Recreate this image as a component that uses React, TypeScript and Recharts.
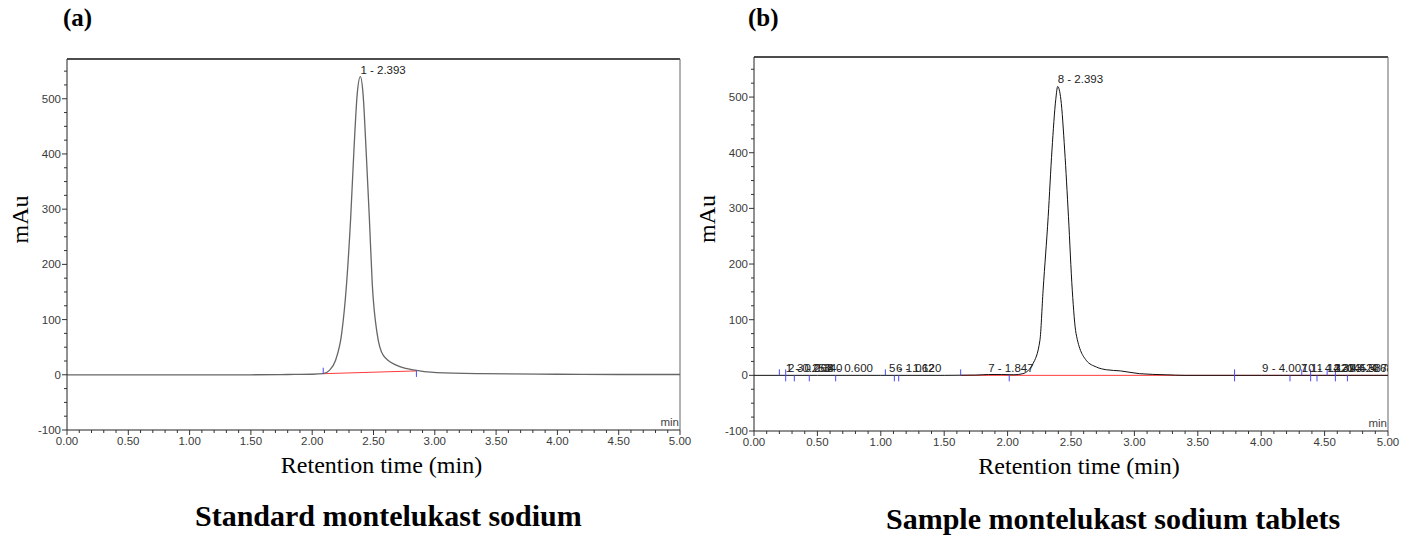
import React from "react";
import {
  ComposedChart,
  Line,
  Scatter,
  XAxis,
  YAxis,
  ReferenceLine
} from "recharts";

// (a) standard
const leftTime = [0, 0.5, 1.0, 1.5, 1.8, 2.0, 2.09, 2.14, 2.19, 2.24, 2.28, 2.314, 2.34, 2.367, 2.393, 2.415, 2.44, 2.466, 2.49, 2.53, 2.58, 2.69, 2.825, 3.015, 3.37, 4.0, 4.5, 5.0];
const leftSignal = [0, 0, 0, 0, 0.5, 1, 2, 8, 26, 74, 164, 285, 405, 508, 540, 508, 405, 285, 164, 74, 35, 17, 9, 4, 2, 1, 0.5, 0.5];
const leftPeak = { t: 2.393, v: 540, label: "1 - 2.393" };
const leftMarks = [
  { t: 2.09, v: 2, dir: "up" },
  { t: 2.85, v: 7, dir: "down" }
];

// (b) sample
const rightTime = [0, 0.5, 1.0, 1.5, 1.75, 1.85, 1.95, 2.05, 2.12, 2.2, 2.255, 2.28, 2.32, 2.35, 2.38, 2.395, 2.42, 2.45, 2.48, 2.51, 2.54, 2.62, 2.7, 2.78, 2.89, 3.04, 3.25, 3.4, 4.0, 5.0];
const rightSignal = [0, 0, 0, 0, 0.5, 1.5, 1.5, 1, 3, 21, 63, 153, 285, 405, 496, 519, 496, 405, 285, 153, 75, 27, 15, 10, 8, 3, 1, 0, 0, 0];
const rightPeak = { t: 2.395, v: 519, label: "8 - 2.393" };
const rightPeakLabels = [
  { t: 0.25, v: 0, label: "1 - 0.250" },
  { t: 0.268, v: 0, label: "2 - 0.268" },
  { t: 0.34, v: 0, label: "3 - 0.340" },
  { t: 0.58, v: 0, label: "4 - 0.600" },
  { t: 1.065, v: 0, label: "5 - 1.062" },
  { t: 1.12, v: 0, label: "6 - 1.120" },
  { t: 1.847, v: 0, label: "7 - 1.847" },
  { t: 4.007, v: 0, label: "9 - 4.007" },
  { t: 4.32, v: 0, label: "10 - 4.320" },
  { t: 4.393, v: 0, label: "11 - 4.393" },
  { t: 4.52, v: 0, label: "12 - 4.520" },
  { t: 4.587, v: 0, label: "13 - 4.587" },
  { t: 4.68, v: 0, label: "14 - 4.680" }
];
const rightMarks = [
  { t: 0.2, v: 0, dir: "up" },
  { t: 0.25, v: 0, dir: "both" },
  { t: 0.318, v: 0, dir: "down" },
  { t: 0.436, v: 0, dir: "down" },
  { t: 0.644, v: 0, dir: "down" },
  { t: 1.036, v: 0, dir: "up" },
  { t: 1.107, v: 0, dir: "down" },
  { t: 1.141, v: 0, dir: "down" },
  { t: 1.63, v: 0, dir: "up" },
  { t: 2.013, v: 0, dir: "down" },
  { t: 3.79, v: 0, dir: "both" },
  { t: 4.227, v: 0, dir: "down" },
  { t: 4.32, v: 0, dir: "up" },
  { t: 4.39, v: 0, dir: "both" },
  { t: 4.44, v: 0, dir: "down" },
  { t: 4.52, v: 0, dir: "up" },
  { t: 4.585, v: 0, dir: "both" },
  { t: 4.68, v: 0, dir: "down" }
];

// axes
const yTicks = [-100, -75, -50, -25, 0, 25, 50, 75, 100, 125, 150, 175, 200, 225, 250, 275, 300, 325, 350, 375, 400, 425, 450, 475, 500, 525, 550];
const xTicks = Array.from({ length: 51 }, (_, i) => i / 10);
const yMax = 572;

const tickFont = { fontFamily: "'Liberation Sans', Arial, sans-serif", fontSize: 11.5, fill: "#3a3a3a" };
const serif = "'Liberation Serif', 'Times New Roman', serif";

const toRows = (ts: number[], vs: number[]) => ts.map((t, i) => ({ t, v: vs[i] }));

const YTick = (props: any) => {
  const { x, y, payload } = props;
  const major = payload.value % 100 === 0;
  return (
    <g>
      <line x1={x - (major ? 5 : 3)} x2={x} y1={y} y2={y} stroke="#333" />
      {major && (
        <text x={x - 6} y={y + 4} textAnchor="end" {...tickFont}>
          {payload.value}
        </text>
      )}
    </g>
  );
};

const XTick = (props: any) => {
  const { x, y, payload } = props;
  const major = Math.round(payload.value * 10) % 5 === 0;
  return (
    <g>
      <line x1={x} x2={x} y1={y} y2={y + (major ? 5 : 3)} stroke="#333" />
      {major && (
        <text x={x} y={y + 15} textAnchor="middle" {...tickFont}>
          {payload.value.toFixed(2)}
        </text>
      )}
    </g>
  );
};

const MarkShape = (props: any) => {
  const { cx, cy, payload } = props;
  const up = payload.dir === "up" || payload.dir === "both";
  const down = payload.dir === "down" || payload.dir === "both";
  return (
    <line x1={cx} x2={cx} y1={up ? cy - 6 : cy} y2={down ? cy + 6 : cy} stroke="#4a4aff" strokeWidth={1} />
  );
};

const PeakText = (props: any) => {
  const { cx, cy, payload } = props;
  return (
    <text x={cx} y={cy - 3} {...tickFont} fill="#222">
      {payload.label}
    </text>
  );
};

const yLabel = (props: any) => {
  const vb = props.viewBox || { x: 0, y: 0, width: 50, height: 370 };
  const cx = vb.x + vb.width - 47;
  const cy = vb.y + vb.height / 2 - 25;
  return (
    <text x={cx} y={cy} transform={`rotate(-90 ${cx} ${cy})`} textAnchor="middle" dominantBaseline="central" fontFamily={serif} fontSize={24} fill="#000">
      mAu
    </text>
  );
};

const xLabel = (props: any) => {
  const vb = props.viewBox || { x: 0, y: 0, width: 600, height: 50 };
  return (
    <text x={vb.x + vb.width / 2 + 8} y={vb.y + 43} textAnchor="middle" fontFamily={serif} fontSize={24} fill="#000">
      Retention time (min)
    </text>
  );
};

const minLabel = (props: any) => {
  const vb = props.viewBox || { x: 0, y: 0, width: 0, height: 0 };
  return (
    <text x={vb.x - 1} y={vb.y + vb.height - 4} textAnchor="end" {...tickFont} fill="#444">
      min
    </text>
  );
};

type ChartProps = {
  width: number;
  height: number;
  margin: { top: number; right: number; left: number; bottom: number };
  rows: { t: number; v: number }[];
  stroke: string;
  strokeWidth: number;
  peak: { t: number; v: number; label: string };
  marks: { t: number; v: number; dir: string }[];
  peakLabels: { t: number; v: number; label: string }[];
  redSegments: { x: number; y: number }[][];
};

function Chromatogram(p: ChartProps) {
  return (
    <ComposedChart width={p.width} height={p.height} data={p.rows} margin={p.margin}>
      <XAxis
        dataKey="t"
        type="number"
        domain={[0, 5]}
        ticks={xTicks}
        interval={0}
        allowDataOverflow
        height={50}
        tickSize={0}
        tickMargin={0}
        tickLine={false}
        axisLine={{ stroke: "#222" }}
        tick={<XTick />}
        label={xLabel}
      />
      <YAxis
        dataKey="v"
        type="number"
        domain={[-100, yMax]}
        ticks={yTicks}
        interval={0}
        allowDataOverflow
        width={50}
        tickSize={0}
        tickMargin={0}
        tickLine={false}
        axisLine={{ stroke: "#222" }}
        tick={<YTick />}
        label={yLabel}
      />
      <ReferenceLine y={yMax} stroke="#111" strokeWidth={1.5} />
      <ReferenceLine x={5} stroke="#666" label={minLabel} />
      {p.redSegments.map((seg, i) => (
        <ReferenceLine key={i} segment={seg} stroke="#ff3b3b" strokeWidth={1} />
      ))}
      <Line
        type="monotone"
        dataKey="v"
        stroke={p.stroke}
        strokeWidth={p.strokeWidth}
        dot={false}
        activeDot={false}
        isAnimationActive={false}
      />
      <Scatter data={p.marks} dataKey="v" shape={<MarkShape />} isAnimationActive={false} />
      <Scatter data={p.peakLabels} dataKey="v" shape={<PeakText />} isAnimationActive={false} />
      <Scatter data={[p.peak]} dataKey="v" shape={<PeakText />} isAnimationActive={false} />
    </ComposedChart>
  );
}

export default function App() {
  return (
    <div style={{ position: "absolute", left: 0, top: 0, width: 1414, height: 536, background: "#fff", overflow: "hidden" }}>
      <div style={{ position: "absolute", left: 63, top: 5, fontFamily: serif, fontWeight: 700, fontSize: 25, lineHeight: 1 }}>(a)</div>
      <div style={{ position: "absolute", left: 748, top: 5, fontFamily: serif, fontWeight: 700, fontSize: 25, lineHeight: 1 }}>(b)</div>
      <div style={{ position: "absolute", left: 0, top: 0 }}>
        <Chromatogram
          width={700}
          height={480}
          margin={{ top: 59, right: 20, left: 17, bottom: 0 }}
          rows={toRows(leftTime, leftSignal)}
          stroke="#666"
          strokeWidth={1.3}
          peak={leftPeak}
          marks={leftMarks}
          peakLabels={[]}
          redSegments={[[{ x: 2.09, y: 2 }, { x: 2.85, y: 7 }]]}
        />
      </div>
      <div style={{ position: "absolute", left: 690, top: 0 }}>
        <Chromatogram
          width={720}
          height={481}
          margin={{ top: 57, right: 22, left: 14, bottom: 0 }}
          rows={toRows(rightTime, rightSignal)}
          stroke="#111"
          strokeWidth={1}
          peak={rightPeak}
          marks={rightMarks}
          peakLabels={rightPeakLabels}
          redSegments={[[{ x: 1.63, y: 0 }, { x: 5, y: 0 }]]}
        />
      </div>
      <div style={{ position: "absolute", left: 195, top: 501, fontFamily: serif, fontWeight: 700, fontSize: 30, lineHeight: 1, whiteSpace: "nowrap" }}>
        Standard montelukast sodium
      </div>
      <div style={{ position: "absolute", left: 886, top: 504, fontFamily: serif, fontWeight: 700, fontSize: 30, lineHeight: 1, whiteSpace: "nowrap" }}>
        Sample montelukast sodium tablets
      </div>
    </div>
  );
}
